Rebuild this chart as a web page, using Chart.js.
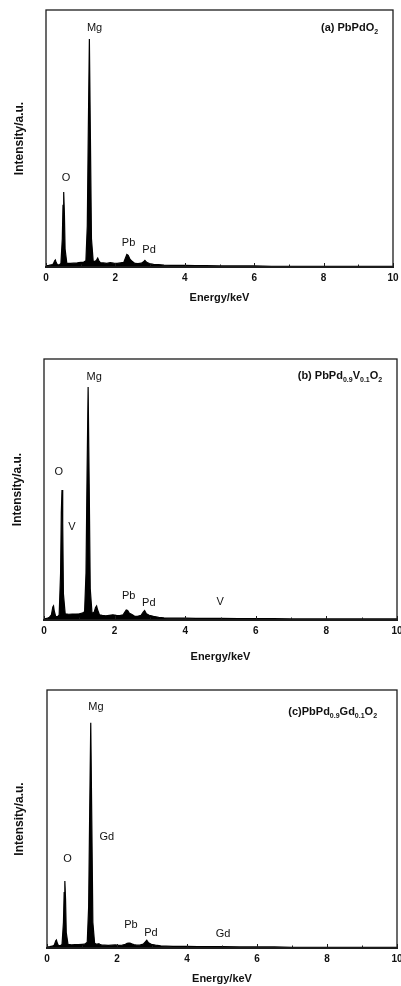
<!DOCTYPE html>
<html><head><meta charset="utf-8">
<script src="https://cdn.jsdelivr.net/npm/chart.js@4.4.1/dist/chart.umd.min.js"></script>
<style>
html,body{margin:0;padding:0;background:#fff;width:401px;height:986px;overflow:hidden;position:relative}
canvas{position:absolute;left:0}
</style></head><body>
<canvas id="ca"></canvas><canvas id="cb"></canvas><canvas id="cc"></canvas>
<script>
// ---- data (energy in keV, intensity in a.u., 1000 = top of frame) ----
const energy = [0,0.08,0.15,0.21,0.25,0.27,0.29,0.33,0.38,0.43,0.47,0.49,0.51,0.53,0.55,0.6,0.7,0.8,0.9,1.0,
  1.08,1.15,1.19,1.22,1.25,1.28,1.31,1.36,1.42,1.46,1.49,1.52,1.57,1.65,1.75,1.85,1.95,2.05,2.15,2.24,
  2.29,2.33,2.37,2.42,2.48,2.56,2.65,2.75,2.81,2.85,2.9,2.98,3.1,3.25,3.4,3.6,3.8,4.0,4.3,4.6,
  5.0,5.5,6.0,6.5,7.0,7.5,8.0,8.5,9.0,9.5,10.0];
const intensityA = [4,6,8,12,24,27,18,9,8,14,110,240,292,210,70,14,14,15,16,18,
  18,24,160,540,887,500,110,22,22,28,35,25,16,16,14,17,15,14,16,18,
  35,49,45,30,22,14,13,15,20,26,18,13,10,9,7,6,6,6,5,5,
  4,4,4,3,3,3,3,3,3,3,3];
const intensityB = [4,6,10,20,50,54,35,14,12,20,180,410,498,370,100,24,22,23,23,24,
  26,32,180,560,893,520,120,26,30,48,54,38,20,18,16,18,20,18,17,20,
  30,38,36,26,22,15,14,18,30,36,24,18,14,10,8,7,7,7,6,6,
  6,5,5,5,4,4,4,4,4,4,4];
const intensityC = [4,5,7,12,28,31,20,9,9,14,100,215,260,190,60,14,12,13,13,14,
  15,22,160,530,873,490,100,18,14,16,16,13,11,11,10,11,12,10,11,14,
  18,19,19,16,13,11,11,15,24,30,20,14,11,8,7,6,6,6,5,5,
  5,4,4,4,3,3,3,3,3,3,3];
const xMajorTicks = [0,2,4,6,8,10];
const xMinorTicks = [1,3,5,7,9];
const xTitle = 'Energy/keV';
const yTitle = 'Intensity/a.u.';
const peakNamesA = ['Mg','O','Pb','Pd'];
const peakNamesB = ['Mg','O','V','Pb','Pd','V'];
const peakNamesC = ['Mg','Gd','O','Pb','Pd','Gd'];
const sampleA = [['(a) PbPdO',0],['2',1]];
const sampleB = [['(b) PbPd',0],['0.9',1],['V',0],['0.1',1],['O',0],['2',1]];
const sampleC = [['(c)PbPd',0],['0.9',1],['Gd',0],['0.1',1],['O',0],['2',1]];

// ---- layout / annotation placement (data coordinates) ----
const FONT = '"Liberation Sans", Arial, Helvetica, sans-serif';
const panels = [
  {id:'ca', top:0, height:309, area:{left:46,right:393,top:10}, yTitleX:20, xTitlePad:4.4,
   values:intensityA, names:peakNamesA, pos:[[1.40,930],[0.58,346],[2.38,95],[2.97,66]],
   sample:sampleA, samplePos:[9.57,930]},
  {id:'cb', top:320, height:348, area:{left:44,right:397,top:39}, yTitleX:18, xTitlePad:4.4,
   values:intensityB, names:peakNamesB, pos:[[1.42,932],[0.42,568],[0.79,357],[2.40,92],[2.97,65],[4.99,70]],
   sample:sampleB, samplePos:[9.58,935]},
  {id:'cc', top:660, height:326, area:{left:47,right:397,top:30}, yTitleX:20, xTitlePad:0,
   values:intensityC, names:peakNamesC, pos:[[1.40,934],[1.71,430],[0.59,345],[2.40,89],[2.97,59],[5.03,54]],
   sample:sampleC, samplePos:[9.43,916]}
];
const plotBottoms = [267, 300, 288];

function makeChart(p, idx){
  const cv = document.getElementById(p.id);
  cv.width = 401; cv.height = p.height; cv.style.top = p.top + 'px';
  cv.style.width = '401px'; cv.style.height = p.height + 'px';
  const bottom = plotBottoms[idx];
  const overlay = {
    id:'overlay'+idx,
    afterDatasetsDraw(chart){
      const {ctx, chartArea:a, scales:{x, y}} = chart;
      ctx.save();
      ctx.strokeStyle = '#1c1c1c';
      ctx.lineWidth = 1.3;
      ctx.strokeRect(a.left, a.top, a.right - a.left, a.bottom - a.top);
      ctx.lineWidth = 2;
      ctx.beginPath(); ctx.moveTo(a.left - 1, a.bottom); ctx.lineTo(a.right + 1, a.bottom); ctx.stroke();
      ctx.lineWidth = 1;
      ctx.beginPath();
      xMajorTicks.forEach(v => { const px = Math.round(x.getPixelForValue(v)) + 0.5; ctx.moveTo(px, a.bottom); ctx.lineTo(px, a.bottom - 4); });
      xMinorTicks.forEach(v => { const px = Math.round(x.getPixelForValue(v)) + 0.5; ctx.moveTo(px, a.bottom); ctx.lineTo(px, a.bottom - 2.5); });
      ctx.stroke();
      // peak labels
      ctx.fillStyle = '#111';
      ctx.textAlign = 'center'; ctx.textBaseline = 'middle';
      ctx.font = '11px ' + FONT;
      p.names.forEach((n, i) => {
        ctx.fillText(n, x.getPixelForValue(p.pos[i][0]), y.getPixelForValue(p.pos[i][1]));
      });
      // sample label with subscripts, right aligned
      ctx.textAlign = 'left';
      const mainF = 'bold 11px ' + FONT, subF = 'bold 7px ' + FONT;
      let w = 0;
      p.sample.forEach(s => { ctx.font = s[1] ? subF : mainF; w += ctx.measureText(s[0]).width; });
      let sx = x.getPixelForValue(p.samplePos[0]) - w;
      const sy = y.getPixelForValue(p.samplePos[1]);
      p.sample.forEach(s => {
        ctx.font = s[1] ? subF : mainF;
        ctx.fillText(s[0], sx, sy + (s[1] ? 4 : 0));
        sx += ctx.measureText(s[0]).width;
      });
      ctx.restore();
    }
  };
  return new Chart(cv, {
    type:'scatter',
    data:{datasets:[{
      data: energy.map((e, i) => ({x:e, y:p.values[i]})),
      showLine:true, pointRadius:0, borderColor:'#000', borderWidth:1.2,
      backgroundColor:'#000', fill:'origin', tension:0
    }]},
    options:{
      responsive:false, animation:false, devicePixelRatio:1,
      layout:{padding:{left:0, top:p.area.top, right:401 - p.area.right, bottom:0}},
      plugins:{legend:{display:false}, tooltip:{enabled:false}},
      scales:{
        x:{type:'linear', min:0, max:10,
          afterBuildTicks(s){ s.ticks = xMajorTicks.map(v => ({value:v})); },
          afterFit(s){ s.height = p.height - bottom; s.paddingLeft = 0; s.paddingRight = 0; },
          grid:{display:false, drawTicks:false},
          border:{display:false},
          ticks:{padding:5, color:'#111', font:{family:FONT, size:10, weight:'bold'}, maxRotation:0, autoSkip:false},
          title:{display:true, text:xTitle, color:'#111', font:{family:FONT, size:11, weight:'bold'}, padding:{top:0, bottom:p.xTitlePad}}
        },
        y:{type:'linear', min:0, max:1000,
          afterFit(s){ s.width = p.area.left; s.paddingTop = 0; s.paddingBottom = 0; },
          grid:{display:false, drawTicks:false}, border:{display:false},
          ticks:{display:false},
          title:{display:true, text:yTitle, color:'#111', font:{family:FONT, size:12, weight:'bold'}, padding:{top:p.yTitleX - 7.2, bottom:0}}
        }
      }
    },
    plugins:[overlay]
  });
}
panels.forEach(makeChart);
</script>
</body></html>
